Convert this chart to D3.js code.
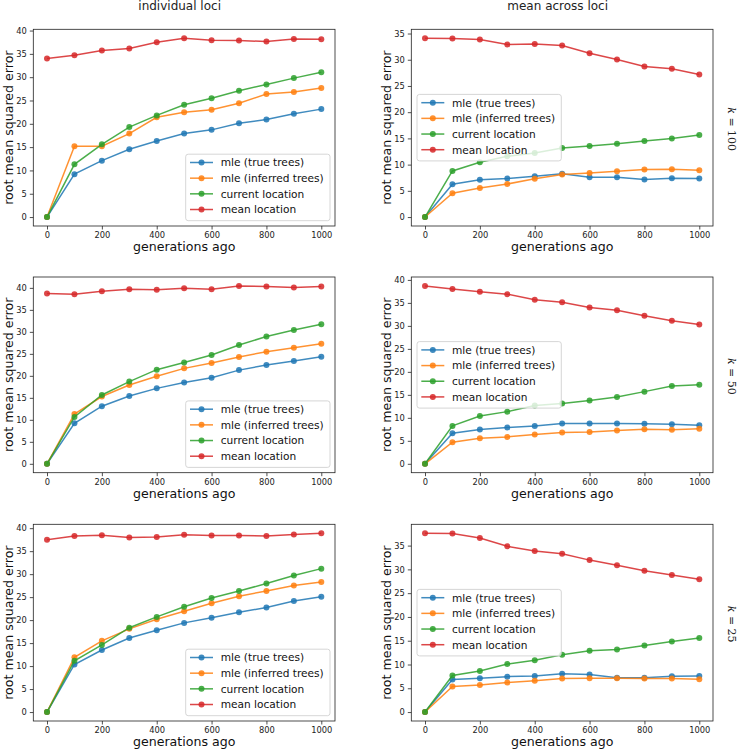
<!DOCTYPE html>
<html><head><meta charset="utf-8">
<script src="https://cdn.jsdelivr.net/npm/d3@7"></script>
<style>body{margin:0;background:#fff} svg text{font-family:"DejaVu Sans",sans-serif}</style>
</head><body><svg id="chart" width="738" height="752"></svg>
<script>
const generations = [0,100,200,300,400,500,600,700,800,900,1000];
const xTicks = [0,200,400,600,800,1000];
const yTickStep = 5;
const seriesNames = ["mle (true trees)","mle (inferred trees)","current location","mean location"];
const seriesColors = ["#1f77b4","#ff7f0e","#2ca02c","#d62728"];
const columnTitles = ["individual loci","mean across loci"];
const rowKs = ["100","50","25"];
const xLabel = "generations ago";
const yLabel = "root mean squared error";

// individual loci, k = 100
const indivK100True     = [0,9.2,12.1,14.55,16.3,17.9,18.7,20.1,20.9,22.15,23.15];
const indivK100Inferred = [0,15.2,15.2,17.9,21.4,22.5,23.0,24.4,26.4,26.8,27.7];
const indivK100Current  = [0,11.3,15.6,19.3,21.8,24.1,25.5,27.1,28.45,29.8,31.05];
const indivK100Mean     = [34.0,34.7,35.7,36.15,37.5,38.35,37.9,37.85,37.65,38.2,38.15];
// mean across loci, k = 100
const meanK100True      = [0,6.25,7.1,7.35,7.8,8.25,7.6,7.6,7.15,7.4,7.35];
const meanK100Inferred  = [0,4.55,5.55,6.3,7.3,8.1,8.4,8.75,9.05,9.1,8.95];
const meanK100Current   = [0,8.8,10.45,11.6,12.2,13.15,13.55,14.0,14.5,15.0,15.65];
const meanK100Mean      = [34.1,34.05,33.85,32.9,33.0,32.7,31.25,30.05,28.7,28.3,27.2];
// individual loci, k = 50
const indivK50True      = [0,9.2,13.1,15.4,17.15,18.5,19.55,21.3,22.45,23.35,24.35];
const indivK50Inferred  = [0,11.3,15.3,17.9,19.9,21.7,22.9,24.3,25.5,26.4,27.3];
const indivK50Current   = [0,10.65,15.65,18.7,21.4,23.05,24.75,27.0,28.95,30.4,31.75];
const indivK50Mean      = [38.7,38.55,39.25,39.7,39.6,39.9,39.7,40.45,40.3,40.1,40.3];
// mean across loci, k = 50
const meanK50True       = [0,6.65,7.45,7.9,8.25,8.75,8.75,8.75,8.7,8.6,8.4];
const meanK50Inferred   = [0,4.7,5.55,5.85,6.4,6.8,6.9,7.25,7.5,7.4,7.6];
const meanK50Current    = [0,8.25,10.4,11.35,12.7,13.1,13.75,14.55,15.7,16.9,17.2];
const meanK50Mean       = [38.7,38.05,37.45,36.9,35.7,35.15,34.0,33.4,32.2,31.1,30.3];
// individual loci, k = 25
const indivK25True      = [0,10.35,13.5,16.1,17.8,19.4,20.5,21.7,22.75,24.15,25.1];
const indivK25Inferred  = [0,11.9,15.5,18.1,20.2,21.95,23.65,25.2,26.35,27.55,28.3];
const indivK25Current   = [0,11.15,14.6,18.35,20.7,22.9,24.8,26.35,27.95,29.7,31.2];
const indivK25Mean      = [37.5,38.3,38.45,37.95,38.1,38.55,38.4,38.4,38.3,38.6,38.9];
// mean across loci, k = 25
const meanK25True       = [0,6.85,7.1,7.45,7.6,8.05,7.9,7.2,7.2,7.55,7.6];
const meanK25Inferred   = [0,5.4,5.7,6.2,6.6,7.05,7.1,7.1,7.05,7.05,6.9];
const meanK25Current    = [0,7.7,8.65,10.1,10.9,12.05,12.9,13.15,14.0,14.85,15.55];
const meanK25Mean       = [37.6,37.55,36.6,34.85,33.85,33.3,31.95,30.85,29.7,28.8,27.95];

const panels = [
  {row:0,col:0,series:[indivK100True,indivK100Inferred,indivK100Current,indivK100Mean]},
  {row:0,col:1,series:[meanK100True,meanK100Inferred,meanK100Current,meanK100Mean]},
  {row:1,col:0,series:[indivK50True,indivK50Inferred,indivK50Current,indivK50Mean]},
  {row:1,col:1,series:[meanK50True,meanK50Inferred,meanK50Current,meanK50Mean]},
  {row:2,col:0,series:[indivK25True,indivK25Inferred,indivK25Current,indivK25Mean]},
  {row:2,col:1,series:[meanK25True,meanK25Inferred,meanK25Current,meanK25Mean]}
];

const colX = [[33.3,335],[411.3,713]];
const rowY = [[29.3,226],[277,472.7],[524.3,721]];

const svg = d3.select("#chart");
const tickFont = 8.3;

panels.forEach(p => {
  const [x0,x1] = colX[p.col];
  const [y0,y1] = rowY[p.row];
  const all = p.series.flat();
  const mn = d3.min(all), mx = d3.max(all), pad = (mx-mn)*0.05;
  const x = d3.scaleLinear().domain([-50,1050]).range([x0,x1]);
  const y = d3.scaleLinear().domain([mn-pad, mx+pad]).range([y1,y0]);
  const g = svg.append("g");

  // axes
  const xa = g.append("g").attr("transform",`translate(0,${y1})`)
    .call(d3.axisBottom(x).tickValues(xTicks).tickSize(3.5).tickPadding(3).tickFormat(d3.format("d")));
  const yTicks = d3.range(0, mx+pad, yTickStep);
  const ya = g.append("g").attr("transform",`translate(${x0},0)`)
    .call(d3.axisLeft(y).tickValues(yTicks).tickSize(3.5).tickPadding(3).tickFormat(d3.format("d")));
  [xa,ya].forEach(a => {
    a.select(".domain").remove();
    a.selectAll("text").attr("font-size",tickFont).attr("fill","#222").style("font-family","DejaVu Sans");
    a.selectAll("line").attr("stroke","#222").attr("stroke-width",0.8);
  });

  // series
  const line = d3.line().x((d,i)=>x(generations[i])).y(d=>y(d));
  p.series.forEach((s,si) => {
    const c = seriesColors[si];
    g.append("path").datum(s).attr("d",line).attr("fill","none")
      .attr("stroke",c).attr("stroke-width",1.5).attr("stroke-opacity",0.85);
    g.selectAll(null).data(s).enter().append("circle")
      .attr("cx",(d,i)=>x(generations[i])).attr("cy",d=>y(d)).attr("r",3)
      .attr("fill",c).attr("fill-opacity",0.85);
  });

  // frame
  g.append("rect").attr("x",x0).attr("y",y0).attr("width",x1-x0).attr("height",y1-y0)
    .attr("fill","none").attr("stroke","#222").attr("stroke-width",0.8);

  // axis labels
  g.append("text").attr("x",(x0+x1)/2).attr("y",y1+25).attr("text-anchor","middle")
    .attr("font-size",12.6).attr("fill","#111").text(xLabel);
  g.append("text").attr("transform",`translate(${x0-20.5},${(y0+y1)/2}) rotate(-90)`)
    .attr("text-anchor","middle").attr("font-size",12.6).attr("fill","#111").text(yLabel);

  // legend
  const lw = 144.3, lh = 66.5;
  let lx, ly;
  if (p.col === 0) { lx = x1 - 5 - lw; ly = y1 - 5.3 - lh; }
  else { lx = x0 + 5.7; ly = (y0+y1)/2 - lh/2; }
  const lg = g.append("g").attr("transform",`translate(${lx},${ly})`);
  lg.append("rect").attr("width",lw).attr("height",lh).attr("rx",2.5)
    .attr("fill","#fff").attr("fill-opacity",0.8).attr("stroke","#cccccc").attr("stroke-width",0.8);
  seriesNames.forEach((nm,i) => {
    const cy = 8.3 + i*15.67;
    lg.append("line").attr("x1",4.3).attr("x2",27.3).attr("y1",cy).attr("y2",cy)
      .attr("stroke",seriesColors[i]).attr("stroke-width",1.5).attr("stroke-opacity",0.85);
    lg.append("circle").attr("cx",15.8).attr("cy",cy).attr("r",3)
      .attr("fill",seriesColors[i]).attr("fill-opacity",0.85);
    lg.append("text").attr("x",35).attr("y",cy).attr("dy","0.36em")
      .attr("font-size",10.6).attr("fill","#111").text(nm);
  });
});

// column titles
columnTitles.forEach((t,c) => {
  svg.append("text").attr("x",(colX[c][0]+colX[c][1])/2 - 4.5).attr("y",9.5)
    .attr("text-anchor","middle").attr("font-size",12).attr("fill","#222").text(t);
});

// row labels
rowKs.forEach((k,r) => {
  const cy = (rowY[r][0]+rowY[r][1])/2 + 1.5;
  const t = svg.append("text").attr("transform",`translate(731.5,${cy}) rotate(90)`)
    .attr("text-anchor","middle").attr("dy","0.35em").attr("font-size",11).attr("fill","#222")
    .style("font-family","DejaVu Serif");
  t.append("tspan").attr("font-style","italic").text("k");
  t.append("tspan").text(" = " + k);
});
</script></body></html>
